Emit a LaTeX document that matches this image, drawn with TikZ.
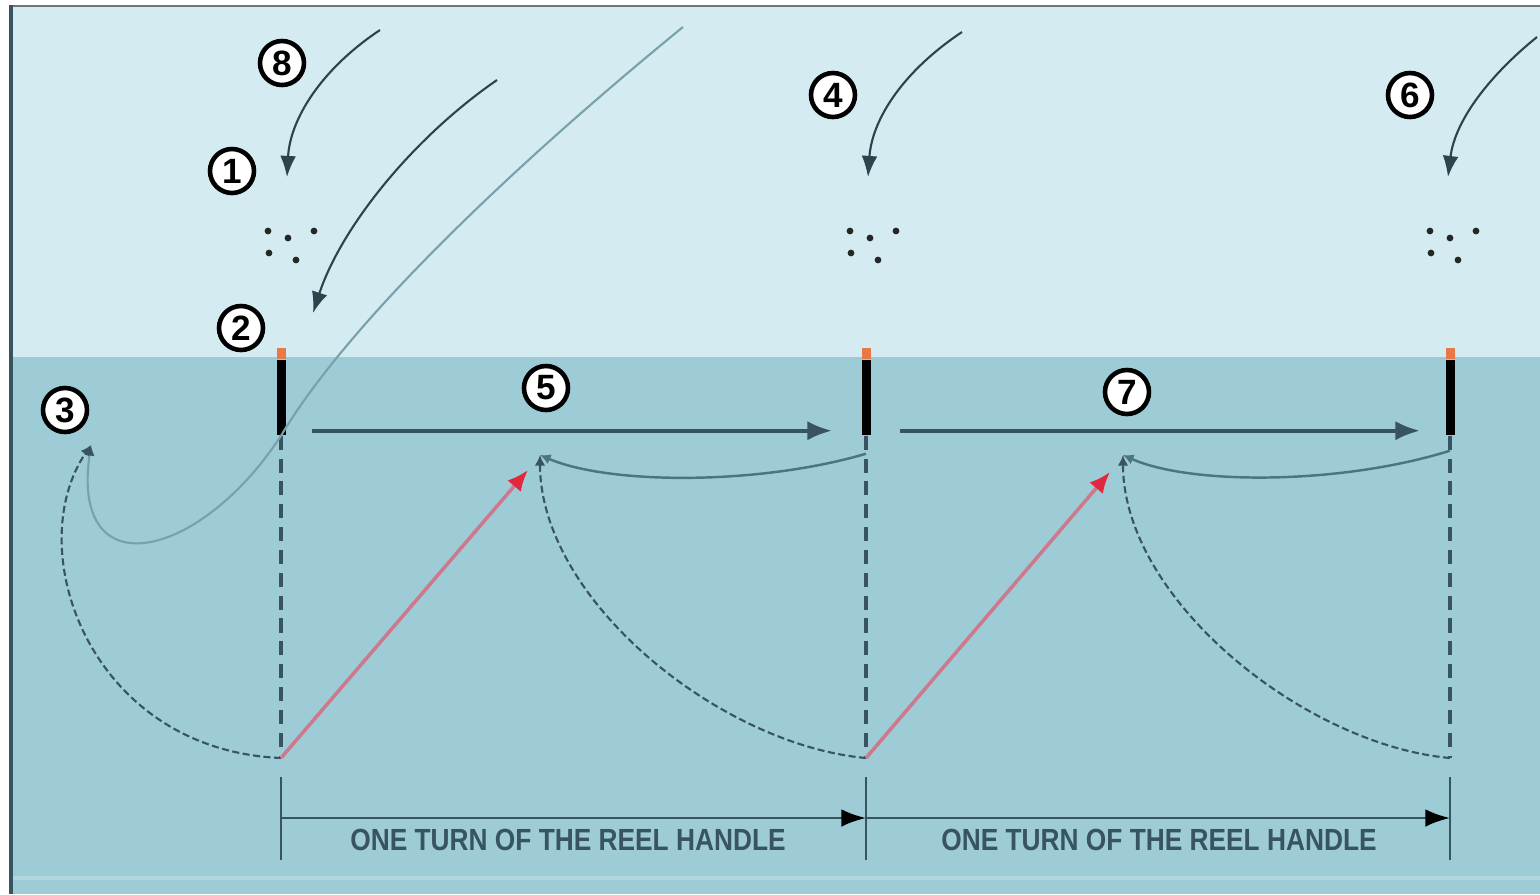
\documentclass[tikz,border=0pt]{standalone}
\usepackage{fontspec}
\setmainfont{Liberation Sans}
\usepackage{graphicx}
\usetikzlibrary{positioning, arrows.meta}

\definecolor{skyblue}{RGB}{212,235,241}
\definecolor{waterblue}{RGB}{157,204,214}
\definecolor{slate}{RGB}{56,84,98}
\definecolor{lineteal}{RGB}{88,138,150}
\definecolor{tipred}{RGB}{226,40,60}
\definecolor{pinkline}{RGB}{205,120,140}
\definecolor{floatorange}{RGB}{232,120,70}

\begin{document}
\begin{tikzpicture}[
        num/.style = {draw, circle, fill=white, line width=1.3pt, minimum size=0.44cm, inner sep=0pt, font=\fontsize{10}{12}\selectfont\bfseries},
        stick/.style = {fill=black, minimum width=0.09cm, minimum height=0.75cm, inner sep=0pt},
        floattip/.style = {fill=floatorange, minimum width=0.09cm, minimum height=0.11cm, inner sep=0pt},
        cast/.style = {-{Latex[length=6pt,width=4.5pt]}, line width=0.6pt, draw=slate!80!black},
        flow/.style = {-{Latex[length=7pt,width=5.5pt]}, line width=1.1pt, draw=slate},
        sink/.style = {-{Latex[length=3pt,width=3pt]}, line width=0.6pt, draw=slate, dash pattern=on 2pt off 1pt},
        drift/.style = {-{Latex[length=3pt,width=3pt]}, line width=0.7pt, draw=lineteal!85!black},
        fishline/.style = {-{Latex[length=3pt,width=3pt,color=slate]}, line width=0.6pt, draw=lineteal!80!white},
        retrieve/.style = {-{Latex[length=6pt,width=5pt,color=tipred]}, draw=pinkline, line width=1pt},
        guide/.style = {draw=slate, line width=0.9pt, dash pattern=on 4pt off 2.5pt},
        tick/.style = {draw=slate, line width=0.7pt},
        dim/.style = {-{Latex[length=7pt,width=5pt,color=black]}, draw=slate, line width=0.7pt},
        turn/.style = {font=\fontsize{8.7}{10}\selectfont\bfseries, text=slate, inner sep=1pt},
        bait/.pic = {\foreach \p in {(-0.2,0.12),(0,0.05),(0.26,0.12),(-0.19,-0.1),(0.08,-0.17)} \fill[black!85] \p circle (0.034);}
      ]

      % ================= BACKGROUND =================
      \useasboundingbox (0,0) rectangle (15.4,-8.94);
      \fill[white] (0,0) rectangle (15.4,-8.94);
      \fill[skyblue] (0.1,-0.05) rectangle (15.4,-3.57);
      \fill[waterblue] (0.1,-3.57) rectangle (15.4,-8.94);
      \draw[white!20!waterblue, line width=1pt] (0.12,-8.78) -- (15.4,-8.78);
      \draw[gray!75!slate, line width=0.8pt] (0.1,-0.06) -- (15.4,-0.06);
      \draw[slate, line width=1.3pt] (0.11,-0.05) -- (0.11,-8.94);

      % ================= FLOATS =================
      \node[stick] (fl1) at (2.81,-3.975) {};
      \node[stick] (fl2) at (8.66,-3.975) {};
      \node[stick] (fl3) at (14.50,-3.975) {};
      \node[floattip, above=0pt of fl1] (tip1) {};
      \node[floattip, above=0pt of fl2] (tip2) {};
      \node[floattip, above=0pt of fl3] (tip3) {};

      % lowest points of the bait and the points it rises to
      \coordinate (low1) at (2.81,-7.58);
      \coordinate (low2) at (8.66,-7.58);
      \coordinate (low3) at (14.50,-7.58);
      \coordinate (p3) at (0.91,-4.45);
      \coordinate (p5) at (5.40,-4.55);
      \coordinate (p7) at (11.23,-4.55);
      \coordinate (up5) at (5.28,-4.70);
      \coordinate (up7) at (11.10,-4.72);

      \draw[guide] (fl1.south) -- (low1);
      \draw[guide] (fl2.south) -- (low2);
      \draw[guide] (fl3.south) -- (low3);

      % float drifts along the surface
      \draw[flow] ([xshift=0.31cm, yshift=0.05cm]fl1.south) -- ([xshift=-0.34cm, yshift=0.05cm]fl2.south);
      \draw[flow] ([xshift=0.34cm, yshift=0.05cm]fl2.south) -- ([xshift=-0.30cm, yshift=0.05cm]fl3.south);

      % ================= CASTING =================
      \coordinate (c8) at (3.80,-0.30);
      \coordinate (c2) at (4.97,-0.80);
      \coordinate (c4) at (9.62,-0.32);
      \coordinate (c6) at (15.37,-0.37);
      \coordinate (e1) at (2.87,-1.77);
      \coordinate (e2) at (3.13,-3.13);
      \coordinate (e4) at (8.68,-1.77);
      \coordinate (e6) at (14.48,-1.77);
      \coordinate (rod) at (6.83,-0.27);

      \draw[cast] (c8) .. controls (3.2,-0.7) and (2.9,-1.2) .. (e1);
      \draw[cast] (c2) .. controls (4.1,-1.4) and (3.4,-2.3) .. (e2);
      \draw[cast] (c4) .. controls (9.02,-0.72) and (8.72,-1.2) .. (e4);
      \draw[cast] (c6) .. controls (14.9,-0.75) and (14.55,-1.2) .. (e6);

      \pic at (2.88,-2.43) {bait};
      \pic at (8.70,-2.43) {bait};
      \pic at (14.50,-2.43) {bait};

      % line from the rod through the float
      \draw[fishline] (rod) .. controls (5.2,-1.6) and (3.5,-3.2) .. (fl1.south) .. controls (2.0,-5.6) and (0.7,-5.9) .. (p3);

      % ================= BAIT IN THE WATER =================
      \draw[sink] (low1) .. controls (0.9,-7.5) and (0.2,-5.5) .. (p3);
      \draw[sink] (low2) .. controls (7.2,-7.45) and (5.4,-6.0) .. (p5);
      \draw[sink] (low3) .. controls (13.05,-7.45) and (11.23,-6.0) .. (p7);
      \draw[drift] ([yshift=-0.18cm]fl2.south) .. controls (7.6,-4.85) and (6.1,-4.85) .. (p5);
      \draw[drift] ([yshift=-0.15cm]fl3.south) .. controls (13.4,-4.85) and (11.9,-4.85) .. (p7);
      \draw[retrieve] (low1) -- (up5);
      \draw[retrieve] (low2) -- (up7);

      % ================= NUMBERS =================
      \node[num] (n8) at (2.82,-0.63) {8};
      \node[num] (n1) at (2.32,-1.71) {1};
      \node[num] (n2) at (2.41,-3.28) {2};
      \node[num] (n3) at (0.65,-4.10) {3};
      \node[num] (n4) at (8.33,-0.95) {4};
      \node[num] (n5) at (5.46,-3.88) {5};
      \node[num] (n6) at (14.10,-0.95) {6};
      \node[num] (n7) at (11.27,-3.92) {7};

      % ================= REEL TURNS =================
      \coordinate (tk1a) at (2.81,-7.77);
      \coordinate (tk1b) at (2.81,-8.60);
      \coordinate (tk2a) at (8.66,-7.77);
      \coordinate (tk2b) at (8.66,-8.60);
      \coordinate (tk3a) at (14.50,-7.77);
      \coordinate (tk3b) at (14.50,-8.60);
      \coordinate (dm1) at (2.81,-8.18);
      \coordinate (dm2) at (8.66,-8.18);
      \coordinate (dm3) at (14.50,-8.18);

      \draw[tick] (tk1a) -- (tk1b);
      \draw[tick] (tk2a) -- (tk2b);
      \draw[tick] (tk3a) -- (tk3b);
      \draw[dim] (dm1) -- (dm2);
      \draw[dim] (dm2) -- (dm3);

      \node[turn] (turn1) at (5.68,-8.40) {\scalebox{0.86}[1]{ONE TURN OF THE REEL HANDLE}};
      \node[turn] (turn2) at (11.59,-8.40) {\scalebox{0.86}[1]{ONE TURN OF THE REEL HANDLE}};

    \end{tikzpicture}
\end{document}
